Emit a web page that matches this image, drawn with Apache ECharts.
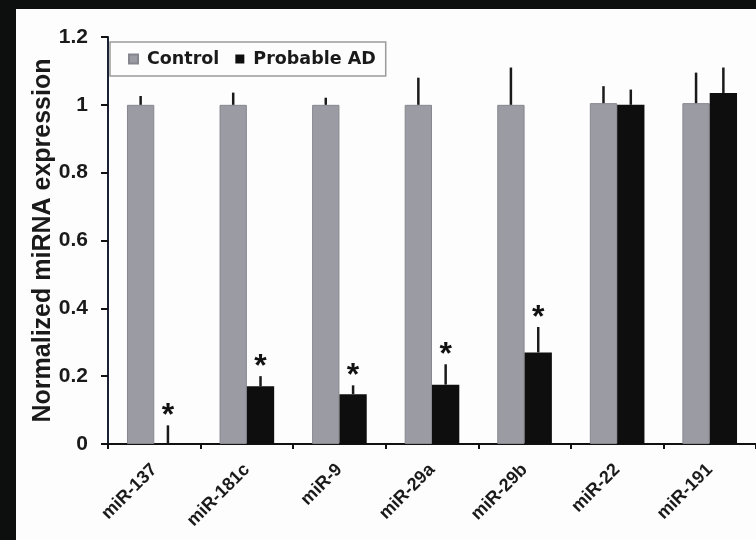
<!DOCTYPE html>
<html>
<head>
<meta charset="utf-8">
<script src="https://cdn.jsdelivr.net/npm/echarts@6/dist/echarts.min.js"></script>
<style>
html,body{margin:0;padding:0;background:#fdfdfd;overflow:hidden;}
#chart{width:756px;height:540px;}
</style>
</head>
<body>
<div id="chart"></div>
<script>
var categories = ['miR-137','miR-181c','miR-9','miR-29a','miR-29b','miR-22','miR-191'];
var controlValues = [1, 1, 1, 1, 1, 1.005, 1.005];
var controlErrors = [0.026, 0.036, 0.021, 0.08, 0.11, 0.05, 0.09];
var adValues = [0, 0.17, 0.147, 0.175, 0.27, 1.0, 1.035];
var adErrors = [0.055, 0.03, 0.026, 0.06, 0.075, 0.045, 0.075];
var significant = [true, true, true, true, true, false, false];
var yTicks = [0, 0.2, 0.4, 0.6, 0.8, 1, 1.2];

var FONT = 'Liberation Sans';
var BAR_FRAC = 0.295; // each bar's share of the category band

function errorSeries(values, errors, side) {
  return {
    type: 'custom',
    silent: true,
    z: 5,
    data: values.map(function (v, i) { return [i, v, v + errors[i]]; }),
    renderItem: function (params, api) {
      var band = api.size([1, 0])[0];
      var base = api.coord([api.value(0), api.value(1)]);
      var top = api.coord([api.value(0), api.value(2)]);
      var x = base[0] + side * band * BAR_FRAC / 2;
      return {
        type: 'line',
        shape: { x1: x, y1: base[1], x2: x, y2: top[1] },
        style: { stroke: '#1a1a1a', lineWidth: 2.5 }
      };
    }
  };
}

var starSeries = {
  type: 'custom',
  silent: true,
  z: 6,
  data: adValues.map(function (v, i) { return [i, v + adErrors[i], significant[i] ? 1 : 0]; }),
  renderItem: function (params, api) {
    if (!api.value(2)) return null;
    var band = api.size([1, 0])[0];
    var p = api.coord([api.value(0), api.value(1)]);
    return {
      type: 'text',
      style: {
        text: '*',
        x: p[0] + band * BAR_FRAC / 2,
        y: p[1] + 7,
        align: 'center',
        verticalAlign: 'bottom',
        font: 'bold 32px "' + FONT + '"',
        fill: '#111'
      }
    };
  }
};

var chart = echarts.init(document.getElementById('chart'));
chart.setOption({
  backgroundColor: '#fdfdfd',
  animation: false,
  graphic: [
    { type: 'rect', left: 0, top: 0, shape: { width: 756, height: 9 }, style: { fill: '#0d0f0e' }, z: 100 },
    { type: 'rect', left: 0, top: 0, shape: { width: 16, height: 540 }, style: { fill: '#0d0f0e' }, z: 100 }
  ],
  legend: {
    left: 110,
    top: 42,
    padding: [8, 10, 8, 18],
    borderColor: '#9a9a9a',
    borderWidth: 1.5,
    itemWidth: 9,
    itemHeight: 9,
    itemGap: 16,
    icon: 'rect',
    textStyle: { fontFamily: 'DejaVu Sans', fontWeight: 'bold', fontSize: 17.5, color: '#1a1a1a', padding: [0, 0, 0, 4] },
    data: ['Control', 'Probable AD']
  },
  grid: { left: 108, top: 37, width: 651, bottom: 96, containLabel: false },
  xAxis: {
    type: 'category',
    data: categories,
    axisLine: { lineStyle: { color: '#111', width: 2 } },
    axisTick: { show: true, alignWithLabel: false, length: 5, lineStyle: { color: '#111', width: 2 } },
    axisLabel: {
      rotate: 45,
      margin: 23,
      interval: 0,
      fontFamily: FONT,
      fontWeight: 'bold',
      fontSize: 18,
      color: '#1a1a1a'
    }
  },
  yAxis: {
    type: 'value',
    min: 0,
    max: 1.2,
    interval: 0.2,
    name: 'Normalized miRNA expression',
    nameLocation: 'middle',
    nameMoveOverlap: false,
    nameGap: 52,
    nameTextStyle: { fontFamily: FONT, fontWeight: 'bold', fontSize: 25, color: '#1a1a1a' },
    axisLine: { show: true, lineStyle: { color: '#1c2233', width: 2 } },
    axisTick: { show: true, length: 7, lineStyle: { color: '#111', width: 2 } },
    splitLine: { show: false },
    axisLabel: {
      margin: 20,
      fontFamily: FONT,
      fontWeight: 'bold',
      fontSize: 21,
      color: '#1a1a1a',
      formatter: function (v) { return yTicks.indexOf(+v.toFixed(1)) >= 0 ? String(+v.toFixed(1)) : ''; }
    }
  },
  series: [
    {
      name: 'Control',
      type: 'bar',
      data: controlValues,
      barGap: '0%',
      barCategoryGap: '41%',
      itemStyle: { color: '#9b9ba4', borderColor: '#86868f', borderWidth: 1 },
      z: 2
    },
    {
      name: 'Probable AD',
      type: 'bar',
      data: adValues,
      itemStyle: { color: '#0e0e0e' },
      z: 2
    },
    errorSeries(controlValues, controlErrors, -1),
    errorSeries(adValues, adErrors, 1),
    starSeries
  ]
});
</script>
</body>
</html>
